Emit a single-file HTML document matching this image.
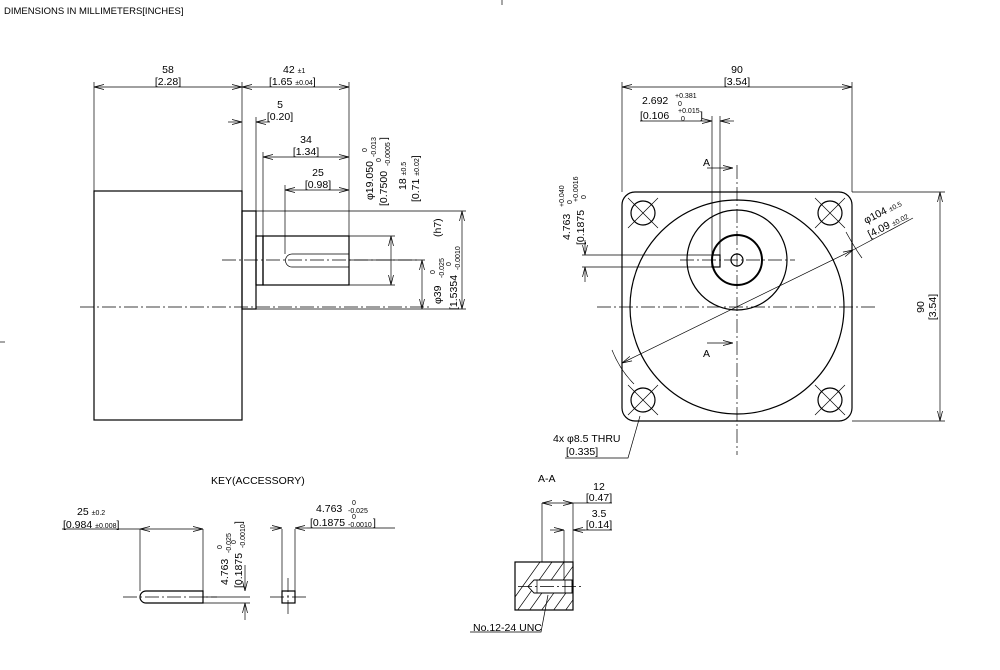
<!DOCTYPE html>
<html><head><meta charset="utf-8"><style>
html,body{margin:0;padding:0;background:#fff}
svg{display:block}
text{font-family:"Liberation Sans Narrow","Liberation Sans",sans-serif;font-size:10.5px;fill:#000}
.s{font-size:7px}
.t{stroke:#000;stroke-width:0.7;fill:none}
.k{stroke:#000;stroke-width:1.2;fill:none}
.c{stroke:#000;stroke-width:0.7;fill:none;stroke-dasharray:14 3 2 3}
</style></head><body>
<svg width="1000" height="670" viewBox="0 0 1000 670" xmlns="http://www.w3.org/2000/svg">
<defs>
<marker id="a" markerWidth="10" markerHeight="6" refX="10" refY="3" orient="auto-start-reverse" markerUnits="userSpaceOnUse">
<polyline points="0,0.5 10,3 0,5.5" fill="none" stroke="#000" stroke-width="0.7"/></marker>
<clipPath id="cp"><rect x="515" y="562" width="58" height="48"/></clipPath>
</defs>
<text x="4" y="14" style="font-size:9.5px">DIMENSIONS IN MILLIMETERS[INCHES]</text>
<line class="t" x1="502" y1="0" x2="502" y2="5"/>
<line class="t" x1="0" y1="342" x2="5" y2="342"/>

<!-- LEFT VIEW -->
<rect class="k" x="94" y="191" width="148" height="229"/>
<rect class="k" x="242" y="211" width="14" height="98"/>
<rect class="k" x="256" y="236" width="7" height="49"/>
<rect class="k" x="263" y="236" width="86" height="49"/>
<path class="t" d="M349,254 H292 A6.5,6.5 0 0 0 292,267 H349"/>
<line class="c" x1="222" y1="260" x2="420" y2="260"/>
<line class="c" x1="80" y1="307" x2="430" y2="307"/>
<path class="t" d="M94,191V82 M242,191V82 M349,236V82 M256,211V117 M263,236V152 M285,254V185"/>
<path class="t" d="M349,236H395 M349,285H395 M349,260H425 M256,211H466 M256,309H466"/>
<line class="t" x1="94" y1="87" x2="242" y2="87" marker-start="url(#a)" marker-end="url(#a)"/>
<line class="t" x1="242" y1="87" x2="349" y2="87" marker-start="url(#a)" marker-end="url(#a)"/>
<line class="t" x1="228" y1="122" x2="242" y2="122" marker-end="url(#a)"/>
<line class="t" x1="270" y1="122" x2="256" y2="122" marker-end="url(#a)"/>
<line class="t" x1="263" y1="157" x2="349" y2="157" marker-start="url(#a)" marker-end="url(#a)"/>
<line class="t" x1="285" y1="190" x2="349" y2="190" marker-start="url(#a)" marker-end="url(#a)"/>
<line class="t" x1="391" y1="236" x2="391" y2="285" marker-start="url(#a)" marker-end="url(#a)"/>
<line class="t" x1="422" y1="260" x2="422" y2="309" marker-start="url(#a)" marker-end="url(#a)"/>
<line class="t" x1="462" y1="211" x2="462" y2="309" marker-start="url(#a)" marker-end="url(#a)"/>
<text x="168" y="73" text-anchor="middle">58</text>
<text x="168" y="85" text-anchor="middle">[2.28]</text>
<text x="283" y="73">42 <tspan class="s">±1</tspan></text>
<text x="269" y="85">[1.65 <tspan class="s">±0.04</tspan>]</text>
<text x="280" y="108" text-anchor="middle">5</text>
<text x="280" y="120" text-anchor="middle">[0.20]</text>
<text x="306" y="143" text-anchor="middle">34</text>
<text x="306" y="155" text-anchor="middle">[1.34]</text>
<text x="318" y="176" text-anchor="middle">25</text>
<text x="318" y="188" text-anchor="middle">[0.98]</text>
<g transform="translate(373,200) rotate(-90)"><text>φ19.050</text><text class="s" x="48" y="-6">0</text><text class="s" x="43" y="3">-0.013</text></g>
<g transform="translate(387,206) rotate(-90)"><text>[0.7500</text><text class="s" x="44" y="-6">0</text><text class="s" x="40" y="3">-0.0005</text><text x="66">]</text></g>
<g transform="translate(406,190) rotate(-90)"><text>18 <tspan class="s">±0.5</tspan></text></g>
<g transform="translate(419,202) rotate(-90)"><text>[0.71 <tspan class="s">±0.02</tspan>]</text></g>
<g transform="translate(441,237) rotate(-90)"><text>(h7)</text></g>
<g transform="translate(441,304) rotate(-90)"><text>φ39</text><text class="s" x="30" y="-6">0</text><text class="s" x="26" y="3">-0.025</text></g>
<g transform="translate(457,310) rotate(-90)"><text>[1.5354</text><text class="s" x="44" y="-6">0</text><text class="s" x="40" y="3">-0.0010</text></g>

<!-- RIGHT VIEW -->
<rect class="k" x="622" y="192" width="230" height="229" rx="13"/>
<circle class="k" cx="737" cy="307" r="107"/>
<circle class="k" cx="737" cy="260" r="50"/>
<circle cx="737" cy="260" r="25" fill="none" stroke="#000" stroke-width="2"/>
<circle class="k" cx="737" cy="260" r="6"/>
<rect class="k" x="712" y="255" width="8" height="12"/>
<g class="k">
<circle cx="643" cy="213" r="12"/><circle cx="830" cy="213" r="12"/>
<circle cx="643" cy="400" r="12"/><circle cx="830" cy="400" r="12"/>
</g>
<path class="t" d="M628,198L658,228M658,198L628,228M815,198L845,228M845,198L815,228M628,385L658,415M658,385L628,415M815,385L845,415M845,385L815,415"/>
<line class="c" x1="597" y1="307" x2="876" y2="307"/>
<line class="c" x1="737" y1="165" x2="737" y2="455"/>
<line class="c" x1="680" y1="260" x2="795" y2="260"/>
<line class="t" x1="707" y1="168" x2="733" y2="168" marker-end="url(#a)"/>
<line class="t" x1="707" y1="343" x2="733" y2="343" marker-end="url(#a)"/>
<text x="703" y="166">A</text>
<text x="703" y="357">A</text>
<line class="t" x1="622" y1="363" x2="853" y2="250" marker-start="url(#a)" marker-end="url(#a)"/>
<line class="t" x1="853" y1="250" x2="913" y2="218"/>
<path class="t" d="M612,350 Q620,370 634,384 M846,232 Q856,250 862,258"/>
<g transform="translate(866,224) rotate(-27)"><text>φ104 <tspan class="s">±0.5</tspan></text></g>
<g transform="translate(870,238) rotate(-27)"><text>[4.09 <tspan class="s">±0.02</tspan></text></g>
<path class="t" d="M622,192V82 M852,192V82 M852,192H945 M852,421H945"/>
<line class="t" x1="622" y1="87" x2="852" y2="87" marker-start="url(#a)" marker-end="url(#a)"/>
<line class="t" x1="940" y1="192" x2="940" y2="421" marker-start="url(#a)" marker-end="url(#a)"/>
<text x="737" y="73" text-anchor="middle">90</text>
<text x="737" y="85" text-anchor="middle">[3.54]</text>
<g transform="translate(924,307) rotate(-90)"><text text-anchor="middle">90</text></g>
<g transform="translate(936,307) rotate(-90)"><text text-anchor="middle">[3.54]</text></g>
<path class="t" d="M712,255V116 M720,255V116"/>
<line class="t" x1="640" y1="121" x2="712" y2="121" marker-end="url(#a)"/>
<line class="t" x1="734" y1="121" x2="720" y2="121" marker-end="url(#a)"/>
<text x="642" y="104">2.692</text><text class="s" x="675" y="98">+0.381</text><text class="s" x="678" y="106">0</text>
<text x="640" y="119">[0.106</text><text class="s" x="678" y="113">+0.015</text><text class="s" x="681" y="121">0</text><text x="700" y="119">]</text>
<path class="t" d="M582,255H712 M582,267H712"/>
<line class="t" x1="585" y1="240" x2="585" y2="255" marker-end="url(#a)"/>
<line class="t" x1="585" y1="282" x2="585" y2="267" marker-end="url(#a)"/>
<g transform="translate(570,240) rotate(-90)"><text>4.763</text><text class="s" x="33" y="-6">+0.040</text><text class="s" x="36" y="2">0</text></g>
<g transform="translate(584,245) rotate(-90)"><text>[0.1875</text><text class="s" x="43" y="-6">+0.0016</text><text class="s" x="46" y="2">0</text></g>
<text x="553" y="442">4x  φ8.5  THRU</text>
<text x="566" y="455">[0.335]</text>
<path class="t" d="M565,458H628L640,416"/>

<!-- KEY -->
<text x="211" y="484">KEY(ACCESSORY)</text>
<path class="k" d="M203,591H146A6,6 0 0 0 146,603H203Z"/>
<line class="c" x1="123" y1="597" x2="217" y2="597"/>
<path class="t" d="M140,591V529 M203,591V529 M62,529H140 M203,597H250 M203,603H250"/>
<line class="t" x1="140" y1="529" x2="203" y2="529" marker-start="url(#a)" marker-end="url(#a)"/>
<line class="t" x1="245" y1="565" x2="245" y2="591" marker-end="url(#a)"/>
<line class="t" x1="245" y1="620" x2="245" y2="603" marker-end="url(#a)"/>
<text x="77" y="515">25 <tspan class="s">±0.2</tspan></text>
<text x="63" y="528">[0.984 <tspan class="s">±0.008</tspan>]</text>
<g transform="translate(228,585) rotate(-90)"><text>4.763</text><text class="s" x="36" y="-6">0</text><text class="s" x="32" y="3">-0.025</text></g>
<g transform="translate(242,588) rotate(-90)"><text>[0.1875</text><text class="s" x="44" y="-6">0</text><text class="s" x="40" y="3">-0.0010</text><text x="64">]</text></g>
<rect class="k" x="282" y="591" width="13" height="12"/>
<path class="t" d="M282,591V529 M295,591V529 M307,528H395"/>
<line class="c" x1="288" y1="578" x2="288" y2="617"/>
<line class="c" x1="270" y1="597" x2="307" y2="597"/>
<line class="t" x1="270" y1="528" x2="282" y2="528" marker-end="url(#a)"/>
<line class="t" x1="307" y1="528" x2="295" y2="528" marker-end="url(#a)"/>
<text x="316" y="512">4.763</text><text class="s" x="352" y="505">0</text><text class="s" x="348" y="513">-0.025</text>
<text x="310" y="526">[0.1875</text><text class="s" x="352" y="519">0</text><text class="s" x="348" y="527">-0.0010</text><text x="373" y="526">]</text>

<!-- A-A -->
<text x="538" y="482">A-A</text>
<g clip-path="url(#cp)" class="t">
<path d="M495,625L545,555 M507,625L557,555 M519,625L569,555 M531,625L581,555 M543,625L593,555 M555,625L605,555 M567,625L617,555 M579,625L629,555 M591,625L641,555"/>
</g>
<path d="M534,580H572V593H534L528,586.5Z" fill="#fff" stroke="#000" stroke-width="0.9"/>
<line class="t" x1="565" y1="580" x2="565" y2="593"/>
<line class="t" x1="537" y1="580" x2="537" y2="593"/>
<rect class="k" x="515" y="562" width="58" height="48"/>
<line class="c" x1="518" y1="586.5" x2="582" y2="586.5"/>
<path class="t" d="M542,562V503 M573,562V503 M564,580V530 M573,503H612 M573,530H612"/>
<line class="t" x1="542" y1="503" x2="573" y2="503" marker-start="url(#a)" marker-end="url(#a)"/>
<line class="t" x1="550" y1="530" x2="564" y2="530" marker-end="url(#a)"/>
<line class="t" x1="585" y1="530" x2="573" y2="530" marker-end="url(#a)"/>
<text x="599" y="490" text-anchor="middle">12</text>
<text x="599" y="501" text-anchor="middle">[0.47]</text>
<text x="599" y="517" text-anchor="middle">3.5</text>
<text x="599" y="528" text-anchor="middle">[0.14]</text>
<path class="t" d="M548,595L541,632H470"/>
<text x="473" y="631">No.12-24 UNC</text>
</svg>
</body></html>
